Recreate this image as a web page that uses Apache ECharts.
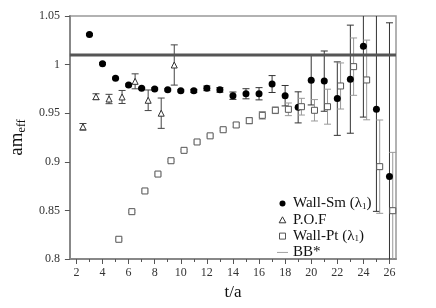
<!DOCTYPE html>
<html><head><meta charset="utf-8">
<script src="https://cdn.jsdelivr.net/npm/echarts@6/dist/echarts.min.js"></script>
<style>html,body{margin:0;padding:0;background:#fff}#c{width:436px;height:308px}</style>
</head><body><div id="c"></div>
<script>
// Wall-Sm (lambda_1)
const smT = [3,4,5,6,7,8,9,10,11,12,13,14,15,16,17,18,19,20,21,22,23,24,25,26];
const smY = [1.031,1.001,0.986,0.979,0.9756,0.975,0.974,0.973,0.973,0.9756,0.974,0.968,0.970,0.970,0.980,0.968,0.956,0.984,0.983,0.965,0.985,1.019,0.954,0.885];
const smErr = [0.001,0.001,0.001,0.001,0.001,0.001,0.001,0.001,0.0015,0.0024,0.0024,0.0038,0.0052,0.0063,0.0087,0.0105,0.016,0.0255,0.031,0.0378,0.0556,0.073,0.105,0.158];
// P.O.F
const pofT = [2.5,3.5,4.5,5.5,6.5,7.5,8.5,9.5];
const pofY = [0.936,0.967,0.9646,0.9667,0.9828,0.9633,0.950,0.9996];
const pofErr = [0.0034,0.003,0.0048,0.0067,0.0077,0.0106,0.0156,0.0207];
// Wall-Pt (lambda_1)
const ptT = [5.25,6.25,7.25,8.25,9.25,10.25,11.25,12.25,13.25,14.25,15.25,16.25,17.25,18.25,19.25,20.25,21.25,22.25,23.25,24.25,25.25,26.25];
const ptY = [0.8203,0.8487,0.870,0.8874,0.9011,0.9118,0.9204,0.9267,0.933,0.9379,0.9423,0.9478,0.953,0.954,0.9567,0.953,0.9567,0.978,0.9979,0.9842,0.895,0.8497];
const ptErr = [0.001,0.001,0.001,0.001,0.001,0.001,0.001,0.001,0.001,0.002,0.003,0.0039,0.0034,0.0065,0.0086,0.011,0.018,0.0237,0.0295,0.041,0.048,0.06];
// BB*
const bbX = [1.5, 26.5];
const bbY = 1.010;
// axis ticks
const xMajor = [2,4,6,8,10,12,14,16,18,20,22,24,26];
const xMinor = [3,5,7,9,11,13,15,17,19,21,23,25];

const FONT = 'Liberation Serif';
const zip = (a,b) => a.map((v,i)=>[v,b[i]]);
const zip3 = (a,b,c) => a.map((v,i)=>[v,b[i],c[i]]);

function errRender(color){
  return function(params, api){
    const x = api.value(0), y = api.value(1), e = api.value(2);
    const t = api.coord([x, y+e]), b = api.coord([x, y-e]);
    const w = 3.5;
    const st = {stroke: color, lineWidth: 1};
    return {type:'group', children:[
      {type:'line', shape:{x1:t[0],y1:t[1],x2:b[0],y2:b[1]}, style:st},
      {type:'line', shape:{x1:t[0]-w,y1:t[1],x2:t[0]+w,y2:t[1]}, style:st},
      {type:'line', shape:{x1:b[0]-w,y1:b[1],x2:b[0]+w,y2:b[1]}, style:st}
    ]};
  };
}

const chart = echarts.init(document.getElementById('c'), null, {renderer:'canvas'});
const names = {'Wall-Sm':'Wall-Sm (λ{s|1})', 'P.O.F':'P.O.F', 'Wall-Pt':'Wall-Pt (λ{s|1})', 'BB*':'BB*'};
chart.setOption({
  animation:false,
  backgroundColor:'#fff',
  grid:{left:57, top:16, right:40, bottom:49, show:true, borderColor:'#999', borderWidth:1.5, backgroundColor:'transparent'},
  legend:{
    orient:'vertical', left:272, top:191, itemWidth:11, itemHeight:6, itemGap:1.3,
    symbolKeepAspect:true,
    data:[
      {name:'Wall-Sm', icon:'circle'},
      {name:'P.O.F', icon:'path://M5,0L10,9L0,9Z', itemStyle:{color:'#fff', borderColor:'#333', borderWidth:1}},
      {name:'Wall-Pt', icon:'path://M0,0H10V10H0Z', itemStyle:{color:'#fff', borderColor:'#555', borderWidth:1}},
      {name:'BB*', icon:'path://M0,0H24V2H0Z', itemStyle:{color:'#999', borderWidth:0}}
    ],
    formatter: n => names[n],
    textStyle:{fontFamily:FONT, fontSize:15, color:'#111', lineHeight:15,
      rich:{s:{fontFamily:FONT, fontSize:9, color:'#111', lineHeight:9, padding:[6,0,0,0]}}}
  },
  xAxis:[{
    type:'value', min:1.5, max:26.5, position:'bottom',
    name:'t/a', nameLocation:'middle', nameGap:22,
    nameTextStyle:{fontFamily:FONT, fontSize:17, color:'#111'},
    axisLine:{show:true, lineStyle:{color:'#888', width:2}},
    axisTick:{show:true, inside:false, length:5, customValues:xMajor, lineStyle:{color:'#555'}},
    axisLabel:{customValues:xMajor, fontFamily:FONT, fontSize:12, color:'#333', margin:8},
    splitLine:{show:false}
  },{
    type:'value', min:1.5, max:26.5, position:'bottom', gridIndex:0,
    axisLine:{show:false},
    axisTick:{show:true, inside:false, length:3, customValues:xMinor, lineStyle:{color:'#555'}},
    axisLabel:{show:false}, splitLine:{show:false}
  }],
  yAxis:{
    type:'value', min:0.8, max:1.05, interval:0.05,
    name:'{a|am}{s|eff}', nameLocation:'middle', nameGap:36, nameRotate:90,
    nameTextStyle:{rich:{
      a:{fontFamily:FONT, fontSize:19, color:'#111'},
      s:{fontFamily:FONT, fontSize:12, color:'#111', padding:[9,0,0,0]}
    }},
    axisLine:{show:true, lineStyle:{color:'#888', width:2}},
    axisTick:{show:true, inside:false, length:5, lineStyle:{color:'#555'}},
    axisLabel:{fontFamily:FONT, fontSize:12, color:'#333', margin:10,
      formatter: v => String(+v.toFixed(2))},
    splitLine:{show:false}
  },
  series:[
    {name:'smErr', type:'custom', clip:true, renderItem:errRender('#333'), data:zip3(smT,smY,smErr), z:2},
    {name:'pofErr', type:'custom', clip:true, renderItem:errRender('#444'), data:zip3(pofT,pofY,pofErr), z:2},
    {name:'ptErr', type:'custom', clip:true, renderItem:errRender('#999'), data:zip3(ptT,ptY,ptErr), z:2},
    {name:'BB*', type:'line', data:zip(bbX,[bbY,bbY]), showSymbol:false, symbol:'none',
      lineStyle:{color:'#555', width:3}, itemStyle:{color:'#999'}, z:3},
    {name:'Wall-Sm', type:'scatter', data:zip(smT,smY), symbol:'circle', symbolSize:7,
      itemStyle:{color:'#000', opacity:1}, z:5},
    {name:'P.O.F', type:'scatter', data:zip(pofT,pofY), symbol:'triangle', symbolSize:6,
      itemStyle:{color:'#fff', borderColor:'#333', borderWidth:1, opacity:1}, z:5},
    {name:'Wall-Pt', type:'scatter', data:zip(ptT,ptY), symbol:'rect', symbolSize:6,
      itemStyle:{color:'#fff', borderColor:'#555', borderWidth:1, opacity:1}, z:5}
  ]
});
</script></body></html>
